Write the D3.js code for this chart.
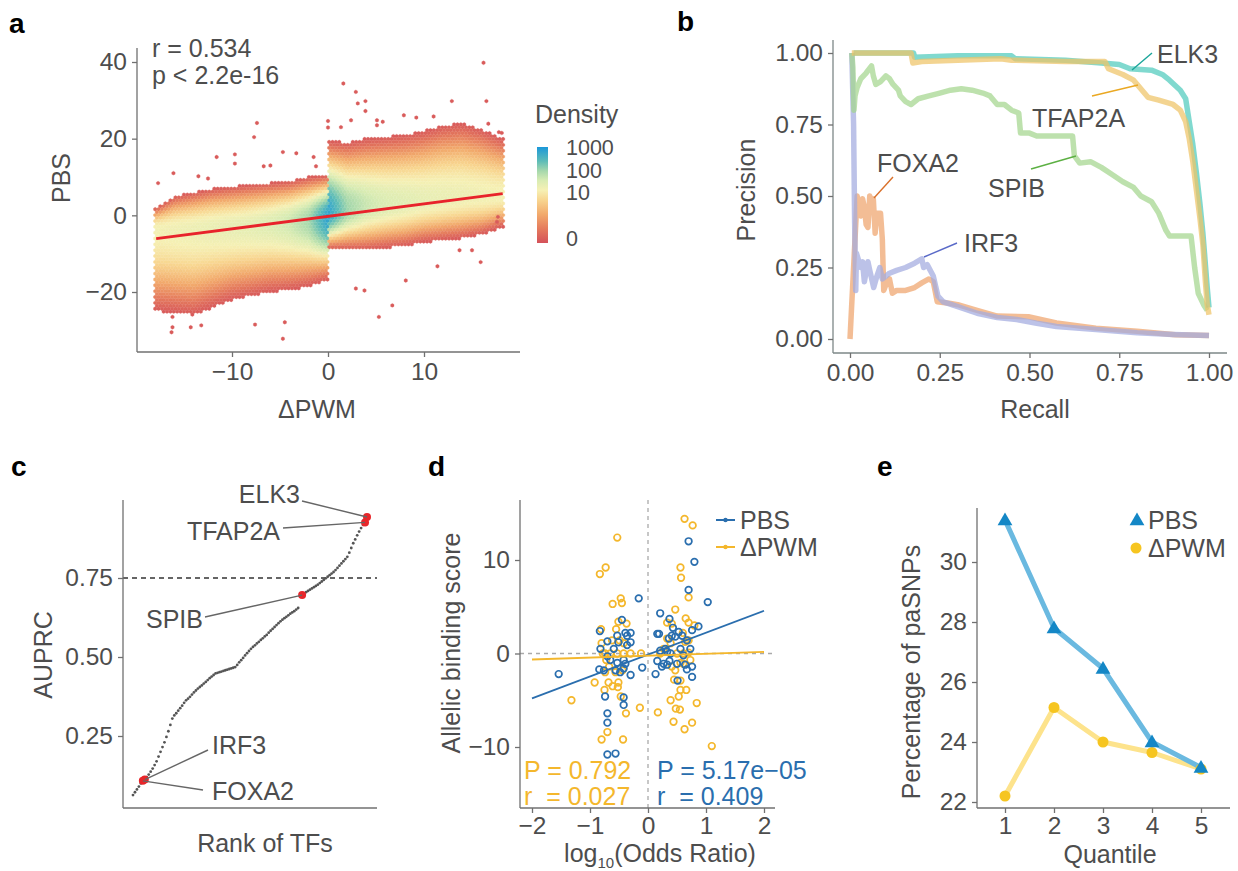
<!DOCTYPE html>
<html>
<head>
<meta charset="utf-8">
<script src="https://cdn.jsdelivr.net/npm/d3@7"></script>
<style>
  body { margin: 0; background: #fff; }
  svg text { font-family: "Liberation Sans", Arial, sans-serif; }
</style>
</head>
<body>
<svg id="fig" width="1238" height="871"></svg>
<script>
// ---------------- data ----------------

// panel a: hexbin density cloud, envelope (left / right of ΔPWM = 0)
const hexLeftX    = [-17.9, -16, -14, -12, -10, -8, -6, -4, -2, -0.1]
const hexLeftTop  = [2, 5, 6, 7, 7.5, 8, 8.5, 9, 10, 10.5]
const hexLeftBot  = [-25, -25.5, -26, -24, -22, -21, -20, -19.5, -18.5, -17]
const hexLeftMid  = [-3.5, -3.5, -3.3, -3, -2.8, -2.5, -2, -1.5, -1, -0.5]
const hexLeftPeak = [0.56, 0.57, 0.58, 0.59, 0.6, 0.61, 0.63, 0.67, 0.75, 0.95]
const hexRightX    = [0.1, 2, 4, 6, 8, 10, 12, 14, 16, 18.2]
const hexRightTop  = [19.5, 19, 20, 20.5, 21, 22, 23.5, 24, 22.5, 20]
const hexRightBot  = [-9, -9, -9, -8.5, -8, -7, -6.5, -6, -5, -3]
const hexRightMid  = [0.5, 1.5, 2.5, 3, 3.5, 4, 4.5, 5, 5, 5]
const hexRightPeak = [0.95, 0.76, 0.68, 0.64, 0.62, 0.6, 0.59, 0.58, 0.57, 0.56]
const hexOutliers = [
  [16.2, 39.8], [1.6, 34.4], [2.9, 32.2], [3.1, 29.2], [3.9, 29.8], [3.9, 27.2], [12.9, 29.8],
  [16.5, 29.8], [-7.4, 24.1], [-7.7, 20.4], [5.7, 24.4], [5.1, 24.8], [1.35, 23], [0, 24.6],
  [0, 22.9], [-11.6, 15.2], [-9.7, 15.9], [-9.7, 13.5], [-16.1, 11], [-17.7, 8.4], [-4.7, 16.5],
  [-3.3, 16.2], [-1.5, 15.2], [-1.25, 12.8], [-6.7, 12.8], [-6, 13], [-13.5, 10.2], [-12.5, 9.6],
  [-16.2, -26.5], [-16.2, -29.2], [-16.3, -30.5], [-14.3, -29.2], [-13.2, -28.7], [-4.7, -32.2],
  [-7.6, -28.5], [-4.5, -27.9], [5.3, -26.5], [6.7, -23.5], [8.1, -17], [3.8, -19.6], [2.9, -19.1],
  [11.4, -13.3], [15.9, -12.2], [13.7, -9.1], [15, -9.1], [17.6, -1.7], [17.7, -0.4], [17.8, 21.7],
  [18.1, 21.5], [16.7, 23.9], [9.2, 25.5], [11, 25.8], [7.9, 26.1], [5.1, 23.5], [2.4, 24.8]
]
const regX = [-17.9, 18.2]
const regY = [-6.1, 5.66]
const densityStops  = [0, 0.15, 0.3, 0.45, 0.55, 0.65, 0.75, 0.85, 1]
const densityColors = ['#d4515a', '#e57b5d', '#f2aa6c', '#f8d690', '#f6f0b4', '#d9ecb3', '#a6d8ac', '#5fbdb7', '#1b98d9']
const densityTickLabels = ['0', '10', '100', '1000']
const densityTickLevels = [0.05, 0.53, 0.76, 0.99]

// panel b: precision-recall curves
const prELK3 = [[0.01,1],[0.177,1],[0.18,0.985],[0.3,0.99],[0.45,0.99],[0.46,0.98],[0.6,0.975],[0.7,0.965],
  [0.75,0.96],[0.78,0.945],[0.84,0.94],[0.87,0.925],[0.89,0.905],[0.92,0.87],[0.935,0.84],[0.945,0.76],
  [0.955,0.68],[0.965,0.58],[0.975,0.47],[0.983,0.37],[0.99,0.26],[0.995,0.18],[1,0.11]]
const prTFAP2A = [[0.005,1],[0.17,1],[0.175,0.965],[0.2,0.97],[0.3,0.975],[0.42,0.98],[0.45,0.975],[0.6,0.97],
  [0.71,0.97],[0.72,0.945],[0.76,0.925],[0.79,0.905],[0.81,0.875],[0.83,0.845],[0.86,0.835],[0.9,0.82],
  [0.92,0.8],[0.935,0.76],[0.945,0.7],[0.955,0.62],[0.965,0.52],[0.975,0.42],[0.983,0.33],[0.99,0.2],
  [0.995,0.12],[1,0.085]]
const prSPIB = [[0.005,1],[0.008,0.95],[0.011,0.8],[0.014,0.85],[0.02,0.88],[0.03,0.91],[0.045,0.93],
  [0.06,0.955],[0.065,0.92],[0.072,0.89],[0.085,0.9],[0.1,0.92],[0.11,0.91],[0.12,0.89],[0.135,0.87],
  [0.14,0.85],[0.155,0.83],[0.17,0.82],[0.19,0.84],[0.22,0.85],[0.25,0.86],[0.28,0.87],[0.31,0.875],
  [0.34,0.87],[0.37,0.86],[0.39,0.85],[0.41,0.82],[0.43,0.82],[0.45,0.8],[0.47,0.79],[0.475,0.72],
  [0.5,0.72],[0.52,0.71],[0.55,0.71],[0.6,0.71],[0.62,0.71],[0.625,0.64],[0.64,0.615],[0.67,0.62],
  [0.7,0.6],[0.73,0.575],[0.76,0.55],[0.79,0.53],[0.81,0.5],[0.84,0.48],[0.86,0.44],[0.88,0.38],
  [0.89,0.36],[0.95,0.36],[0.96,0.25],[0.97,0.16],[0.985,0.12],[0.995,0.1]]
const prFOXA2 = [[0,0],[0.02,0.5],[0.025,0.45],[0.03,0.43],[0.035,0.49],[0.04,0.46],[0.045,0.4],[0.05,0.39],
  [0.055,0.5],[0.06,0.48],[0.065,0.49],[0.07,0.37],[0.075,0.44],[0.085,0.44],[0.09,0.35],[0.094,0.17],
  [0.1,0.19],[0.11,0.21],[0.118,0.16],[0.13,0.17],[0.155,0.17],[0.18,0.18],[0.2,0.196],[0.22,0.21],
  [0.232,0.2],[0.243,0.13],[0.276,0.125],[0.3,0.12],[0.354,0.1],[0.41,0.08],[0.497,0.078],[0.575,0.056],
  [0.685,0.038],[0.8,0.027],[0.906,0.015],[1,0.012]]
const prIRF3 = [[0.005,1],[0.01,0.75],[0.013,0.4],[0.016,0.17],[0.018,0.3],[0.025,0.27],[0.03,0.25],
  [0.035,0.27],[0.04,0.2],[0.05,0.27],[0.055,0.24],[0.066,0.18],[0.075,0.22],[0.083,0.25],[0.09,0.21],
  [0.1,0.22],[0.11,0.23],[0.13,0.24],[0.155,0.25],[0.18,0.265],[0.2,0.28],[0.205,0.25],[0.215,0.26],
  [0.232,0.22],[0.245,0.15],[0.26,0.13],[0.298,0.114],[0.354,0.09],[0.41,0.075],[0.464,0.068],
  [0.52,0.055],[0.575,0.044],[0.685,0.033],[0.8,0.022],[0.9,0.016],[1,0.012]]

// panel c: AUPRC of all TFs, sorted
const auprc = [
  0.063, 0.072, 0.081, 0.090, 0.100, 0.108, 0.112, 0.120, 0.128, 0.137, 0.147, 0.158, 0.170,
  0.185, 0.200, 0.215, 0.230, 0.247, 0.265, 0.285, 0.305, 0.315, 0.322, 0.330, 0.338, 0.346,
  0.355, 0.363, 0.368, 0.374, 0.381, 0.388, 0.394, 0.400, 0.405, 0.410, 0.416, 0.421, 0.427,
  0.433, 0.438, 0.443, 0.448, 0.450, 0.452, 0.454, 0.456, 0.458, 0.460, 0.462, 0.464, 0.466,
  0.468, 0.475, 0.483, 0.490, 0.497, 0.505, 0.512, 0.519, 0.526, 0.532, 0.537, 0.543, 0.548,
  0.554, 0.559, 0.565, 0.570, 0.577, 0.583, 0.589, 0.595, 0.601, 0.607, 0.613, 0.618, 0.623,
  0.627, 0.632, 0.637, 0.641, 0.645, 0.650, 0.655, 0.692, 0.696, 0.701, 0.705, 0.709, 0.713,
  0.717, 0.721, 0.725, 0.729, 0.734, 0.739, 0.744, 0.749, 0.754, 0.759, 0.764, 0.769, 0.775,
  0.782, 0.789, 0.796, 0.803, 0.810, 0.817, 0.830, 0.845, 0.860, 0.872, 0.885, 0.897, 0.908,
  0.918, 0.926, 0.943]
const highlightTFs = ['FOXA2', 'IRF3', 'SPIB', 'TFAP2A', 'ELK3']
const highlightRank = [5, 6, 86, 118, 119]

// panel d: allelic binding score vs log10(odds ratio)
const pbsPts = [[0.7,12],[0.8,9.8],[0.7,6.8],[1.03,5.5],[-0.16,5.9],[0.21,4.3],[0.37,3.7],[0.43,2.75],
  [0.53,2.3],[0.87,2.9],[0.76,2.5],[-0.45,3.6],[-0.83,2.4],[-0.53,1.9],[-0.36,1.9],[-0.3,2.2],[-0.39,2.2],
  [-0.7,1.3],[-0.51,1.2],[-0.36,0.9],[-0.3,1.2],[-0.82,0.5],[-0.59,0.5],[0.16,2.1],[0.19,2.1],[0.36,1.6],
  [0.41,1.9],[0.47,1.8],[0.59,1.9],[0.67,1.4],[0.56,0.5],[0.73,0.5],[0.61,-0.2],[0.3,0.5],[0.33,0.2],
  [0.21,0.3],[0.39,0],[0.16,-0.8],[0.27,-1.1],[0.37,-0.8],[0.24,-1.4],[0.33,-1.2],[0.5,-1.1],[0.64,-1.2],
  [0.76,-1.4],[0.67,-1.7],[0.51,-2.9],[0.76,-2.5],[0.13,-2.2],[-0.1,-1.5],[-0.7,-0.3],[-0.65,-0.7],
  [-0.53,-1],[-0.42,-0.7],[-0.39,-1.1],[-0.56,-1.8],[-0.48,-2],[-0.3,-2.3],[-0.42,-1.6],[-0.84,-1.7],
  [-0.76,-1.8],[-1.54,-2.2],[-0.74,-4.6],[-0.42,-4.7],[-0.42,-5.5],[-0.7,-6.4],[-0.7,-7.4],[-0.7,-10.8],
  [-0.56,-10.7]]
const dpwmPts = [[-0.53,12.4],[-0.83,8.5],[-0.73,9.2],[-0.47,5.9],[-0.61,5.3],[-0.45,5.4],[-0.51,3.4],
  [-0.37,3.2],[-0.55,2.6],[-0.81,2.6],[-0.8,1.1],[-0.62,1.4],[-0.49,1.4],[-0.42,1.1],[-0.78,0],[-0.74,0],
  [-0.65,0],[-0.53,0],[-0.42,0],[-0.3,0],[-0.12,0],[-0.72,-0.7],[-0.67,-1.4],[-0.74,-2],[-0.56,-2],
  [-0.44,-1.8],[-0.92,-3.1],[-0.68,-3.1],[-0.61,-3.5],[-0.51,-3.1],[-0.52,-3.6],[-0.75,-3.9],[-0.47,-4.6],
  [-1.32,-5],[-0.38,-6.4],[-0.14,-5.8],[-0.7,-8.4],[-0.8,-9.2],[-0.43,-9.2],[0.17,-6.3],[0.63,14.4],
  [0.77,13.7],[0.56,9.2],[0.57,8.1],[0.7,6],[0.47,4.7],[0.65,3.75],[0.33,3.3],[0.41,3.2],[0.7,3.3],
  [0.8,3],[0.6,2.2],[0.7,1.4],[0.64,1.25],[0.33,1.6],[0.39,1.1],[0.27,0.5],[0.5,0],[0.61,0],[0.7,0.1],
  [0.21,0],[0.73,-0.7],[0.56,-1],[0.41,-1.4],[0.47,-1.8],[0.61,-1.1],[0.45,-2.8],[0.56,-2.9],[0.53,-4.6],
  [0.39,-5],[0.56,-3.9],[0.66,-3.9],[0.84,-5.3],[0.48,-5.9],[0.55,-6],[0.44,-7.3],[0.76,-7.4],
  [0.63,-8.1],[1.1,-9.9]]
const pbsFit  = [[-2, -4.8], [2, 4.57]]
const dpwmFit = [[-2, -0.64], [2, 0.18]]

// panel e: percentage of paSNPs by quantile
const quantiles = [1, 2, 3, 4, 5]
const pctPBS  = [31.4, 27.8, 26.45, 24.0, 23.15]
const pctDPWM = [22.2, 25.15, 24.0, 23.65, 23.1]

// ---------------- helpers ----------------
const svg = d3.select('#fig')
const textColor = '#4d4d4d'
const axisColor = '#707070'
const titleSize = 25
const tickSize = 24.5

function text(x, y, str, o = {}) {
  const t = svg.append('text')
    .attr('x', x).attr('y', y)
    .attr('font-size', o.size || titleSize)
    .attr('fill', o.color || textColor)
    .attr('text-anchor', o.anchor || 'start')
    .text(str)
  if (o.bold) t.attr('font-weight', 'bold')
  if (o.rotate) t.attr('transform', `rotate(-90, ${x}, ${y})`)
  return t
}

function line(x1, y1, x2, y2, color = axisColor, w = 1.3, dash = null) {
  const l = svg.append('line')
    .attr('x1', x1).attr('y1', y1).attr('x2', x2).attr('y2', y2)
    .attr('stroke', color).attr('stroke-width', w)
  if (dash) l.attr('stroke-dasharray', dash)
  return l
}

function axis(gen, tx, ty) {
  const g = svg.append('g').attr('transform', `translate(${tx},${ty})`).call(gen)
  g.select('.domain').remove()
  g.attr('font-size', tickSize).attr('font-family', '"Liberation Sans", Arial, sans-serif')
  g.selectAll('.tick line').attr('stroke', axisColor).attr('stroke-width', 1.3)
  g.selectAll('.tick text').attr('fill', textColor)
  return g
}

function panelLabel(x, y, s) { text(x, y, s, { size: 28, bold: true, color: '#000' }) }

// ---------------- panel a ----------------
panelLabel(9, 33, 'a')
const xA = d3.scaleLinear().domain([-10, 10]).range([232, 424])
const yA = d3.scaleLinear().domain([-20, 40]).range([292, 62])
const levelColor = d3.scaleLinear().domain(densityStops).range(densityColors).interpolate(d3.interpolateRgb)

function side(xs, top, bot, mid, peak) {
  const s = arr => d3.scaleLinear().domain(xs).range(arr).clamp(true)
  return { min: xs[0], max: xs[xs.length - 1], top: s(top), bot: s(bot), mid: s(mid), peak: s(peak) }
}
const sides = [
  side(hexLeftX, hexLeftTop, hexLeftBot, hexLeftMid, hexLeftPeak),
  side(hexRightX, hexRightTop, hexRightBot, hexRightMid, hexRightPeak)
]

const hexR = 1.95
const hexW = Math.sqrt(3) * hexR
const hexPath = 'M' + d3.range(6).map(k => {
  const a = k * Math.PI / 3
  return [Math.sin(a) * hexR, -Math.cos(a) * hexR]
}).join('L') + 'Z'

const cells = []
const pyTop = yA(26), pyBot = yA(-27)
for (let j = 0; pyTop + j * 1.5 * hexR <= pyBot; j++) {
  const py = pyTop + j * 1.5 * hexR
  for (let px = xA(-18) + (j % 2) * hexW / 2; px <= xA(18.3); px += hexW) {
    const xv = xA.invert(px), yv = yA.invert(py)
    const s = sides.find(s => xv >= s.min - 0.15 && xv <= s.max + 0.15)
    if (!s) continue
    const m = s.mid(xv), top = s.top(xv), bot = s.bot(xv)
    if (yv > top || yv < bot) continue
    const t = yv >= m ? (yv - m) / (top - m) : (m - yv) / (m - bot)
    // colour level falls from the column's peak in the core to ~0 at the envelope
    const lvl = 0.04 + (s.peak(xv) - 0.04) * Math.pow(Math.max(0, 1 - t * t), 1.3)
    cells.push({ px, py, lvl })
  }
}
hexOutliers.forEach(d => cells.push({ px: xA(d[0]), py: yA(d[1]), lvl: 0.04 }))

svg.append('g').selectAll('path').data(cells).join('path')
  .attr('d', hexPath)
  .attr('transform', d => `translate(${d.px},${d.py})`)
  .attr('fill', d => levelColor(d.lvl))
  .attr('stroke', d => levelColor(d.lvl))
  .attr('stroke-width', 0.3)

svg.append('line')
  .attr('x1', xA(regX[0])).attr('y1', yA(regY[0]))
  .attr('x2', xA(regX[1])).attr('y2', yA(regY[1]))
  .attr('stroke', '#e8232b').attr('stroke-width', 2.8)

line(137, 48, 137, 352)
line(137, 352, 520, 352)
axis(d3.axisLeft(yA).tickValues([-20, 0, 20, 40]).tickSize(5).tickPadding(5), 137, 0)
axis(d3.axisBottom(xA).tickValues([-10, 0, 10]).tickSize(5).tickPadding(6), 0, 352)
text(317, 418, 'ΔPWM', { anchor: 'middle' })
text(70, 178, 'PBS', { anchor: 'middle', rotate: true })
text(152, 57, 'r = 0.534')
text(152, 84, 'p < 2.2e-16')

// density legend
const barY = d3.scaleLinear().domain([0, 1]).range([243, 147])
const grad = svg.append('defs').append('linearGradient')
  .attr('id', 'densGrad').attr('x1', 0).attr('y1', 1).attr('x2', 0).attr('y2', 0)
grad.selectAll('stop').data(densityStops).join('stop')
  .attr('offset', d => d).attr('stop-color', (d, i) => densityColors[i])
svg.append('rect').attr('x', 537).attr('y', barY(1)).attr('width', 11)
  .attr('height', barY(0) - barY(1)).attr('fill', 'url(#densGrad)')
text(535, 123, 'Density')
densityTickLabels.forEach((l, i) => text(566, barY(densityTickLevels[i]) + 7.5, l, { size: 21.5 }))

// ---------------- panel b ----------------
panelLabel(677, 31, 'b')
const xB = d3.scaleLinear().domain([0, 1]).range([850, 1209])
const yB = d3.scaleLinear().domain([0, 1]).range([339, 53])
const prLine = d3.line().x(d => xB(d[0])).y(d => yB(d[1]))
const prCurves = [
  { name: 'FOXA2', data: prFOXA2, color: '#eea46c' },
  { name: 'IRF3', data: prIRF3, color: '#a2aadf' },
  { name: 'SPIB', data: prSPIB, color: '#a3d58d' },
  { name: 'ELK3', data: prELK3, color: '#4fcbbd' },
  { name: 'TFAP2A', data: prTFAP2A, color: '#efc466' }
]
svg.append('g').selectAll('path').data(prCurves).join('path')
  .attr('d', d => prLine(d.data))
  .attr('fill', 'none')
  .attr('stroke', d => d.color)
  .attr('stroke-width', 5.5)
  .attr('stroke-linejoin', 'round')
  .attr('opacity', 0.72)

line(833, 40, 833, 353, '#7d8787')
line(833, 353, 1227, 353, '#7d8787')
axis(d3.axisLeft(yB).tickValues([0, 0.25, 0.5, 0.75, 1]).tickFormat(d3.format('.2f')).tickSize(5).tickPadding(5), 833, 0)
axis(d3.axisBottom(xB).tickValues([0, 0.25, 0.5, 0.75, 1]).tickFormat(d3.format('.2f')).tickSize(5).tickPadding(6), 0, 353)
text(1035, 418, 'Recall', { anchor: 'middle' })
text(755, 190, 'Precision', { anchor: 'middle', rotate: true })

line(1132, 70, 1152, 53, '#1aa59a', 1.4)
text(1157, 63, 'ELK3')
line(1092, 96, 1138, 85, '#eaa822', 1.4)
text(1032, 127, 'TFAP2A')
line(1031, 169, 1076, 156, '#5cb043', 1.4)
text(988, 197, 'SPIB')
line(874, 198, 893, 177, '#d9702a', 1.4)
text(877, 172, 'FOXA2')
line(924, 257, 957, 243, '#5a6ac8', 1.4)
text(964, 252, 'IRF3')

// ---------------- panel c ----------------
panelLabel(11, 476, 'c')
const xC = d3.scaleLinear().domain([0, auprc.length - 1]).range([133, 367])
const yC = d3.scaleLinear().domain([0.25, 0.75]).range([736, 578])
line(123, yC(0.75), 377, yC(0.75), '#333', 1.3, '5,4')
svg.append('g').selectAll('circle').data(auprc).join('circle')
  .attr('cx', (d, i) => xC(i)).attr('cy', d => yC(d))
  .attr('r', 1.4).attr('fill', '#555')
svg.append('g').selectAll('circle').data(highlightRank).join('circle')
  .attr('cx', d => xC(d)).attr('cy', d => yC(auprc[d]))
  .attr('r', 4).attr('fill', '#e8262a')
line(123, 500, 123, 808)
line(123, 808, 377, 808)
axis(d3.axisLeft(yC).tickValues([0.25, 0.5, 0.75]).tickFormat(d3.format('.2f')).tickSize(5).tickPadding(5), 123, 0)
text(265, 852, 'Rank of TFs', { anchor: 'middle' })
text(52, 655, 'AUPRC', { anchor: 'middle', rotate: true })

const labelC = [
  { name: 'ELK3', x: 300, y: 503, anchor: 'end', l: [302, 501] },
  { name: 'TFAP2A', x: 280, y: 540, anchor: 'end', l: [283, 528] },
  { name: 'SPIB', x: 146, y: 628, anchor: 'start', l: [205, 617] },
  { name: 'IRF3', x: 212, y: 754, anchor: 'start', l: [208, 750] },
  { name: 'FOXA2', x: 212, y: 800, anchor: 'start', l: [203, 790] }
]
labelC.forEach(d => {
  const r = highlightRank[highlightTFs.indexOf(d.name)]
  line(d.l[0], d.l[1], xC(r), yC(auprc[r]), '#666', 1.4)
  text(d.x, d.y, d.name, { anchor: d.anchor })
})

// ---------------- panel d ----------------
panelLabel(428, 476, 'd')
const xD = d3.scaleLinear().domain([-2, 2]).range([532, 764])
const yD = d3.scaleLinear().domain([-10, 10]).range([747, 560])
const blue = '#2a6eae', yellow = '#f4b72c'
line(xD(0), 500, xD(0), 808, '#aaa', 1.3, '4,4')
line(520, yD(0), 775, yD(0), '#aaa', 1.3, '4,4')

const series = [{ pts: dpwmPts, color: yellow }, { pts: pbsPts, color: blue }]
series.forEach(s => {
  svg.append('g').selectAll('circle').data(s.pts).join('circle')
    .attr('cx', d => xD(d[0])).attr('cy', d => yD(d[1]))
    .attr('r', 3.3).attr('fill', 'none')
    .attr('stroke', s.color).attr('stroke-width', 1.7)
})
;[{ f: pbsFit, c: blue }, { f: dpwmFit, c: yellow }].forEach(d => {
  line(xD(d.f[0][0]), yD(d.f[0][1]), xD(d.f[1][0]), yD(d.f[1][1]), d.c, 1.8)
})

line(520, 500, 520, 808)
line(520, 808, 775, 808)
axis(d3.axisLeft(yD).tickValues([-10, 0, 10]).tickSize(5).tickPadding(5), 520, 0)
axis(d3.axisBottom(xD).tickValues([-2, -1, 0, 1, 2]).tickFormat(d3.format('d')).tickSize(5).tickPadding(4), 0, 808)
text(460, 643, 'Allelic binding score', { anchor: 'middle', rotate: true })
const xt = text(660, 862, 'log', { anchor: 'middle' })
xt.append('tspan').attr('font-size', 15).attr('dy', 6).text('10')
xt.append('tspan').attr('dy', -6).text('(Odds Ratio)')

;[{ n: 'PBS', c: blue, y: 520 }, { n: 'ΔPWM', c: yellow, y: 547 }].forEach(d => {
  line(716, d.y, 735, d.y, d.c, 2)
  svg.append('circle').attr('cx', 725.5).attr('cy', d.y).attr('r', 2.2).attr('fill', d.c)
  text(740, d.y + 9, d.n)
})
text(524, 779, 'P = 0.792', { color: yellow })
text(524, 805, 'r\u00a0 = 0.027', { color: yellow })
text(657, 779, 'P = 5.17e\u221205', { color: blue })
text(657, 805, 'r\u00a0 = 0.409', { color: blue })

// ---------------- panel e ----------------
panelLabel(877, 476, 'e')
const xE = d3.scaleLinear().domain([1, 5]).range([1005, 1201])
const yE = d3.scaleLinear().domain([22, 30]).range([802, 562])
const qLine = vals => d3.line().x((d, i) => xE(quantiles[i])).y(d => yE(d))(vals)

svg.append('path').attr('d', qLine(pctDPWM)).attr('fill', 'none')
  .attr('stroke', '#fde38c').attr('stroke-width', 5).attr('stroke-linejoin', 'round')
svg.append('path').attr('d', qLine(pctPBS)).attr('fill', 'none')
  .attr('stroke', '#6ab9e0').attr('stroke-width', 5).attr('stroke-linejoin', 'round')
svg.append('g').selectAll('circle').data(pctDPWM).join('circle')
  .attr('cx', (d, i) => xE(quantiles[i])).attr('cy', d => yE(d))
  .attr('r', 5.5).attr('fill', '#f6c520')
const tri = d3.symbol(d3.symbolTriangle, 95)
svg.append('g').selectAll('path').data(pctPBS).join('path')
  .attr('d', tri)
  .attr('transform', (d, i) => `translate(${xE(quantiles[i])},${yE(d) + 1})`)
  .attr('fill', '#1487c6')

line(977, 508, 977, 808)
line(977, 808, 1230, 808)
axis(d3.axisLeft(yE).tickValues([22, 24, 26, 28, 30]).tickSize(5).tickPadding(5), 977, 0)
axis(d3.axisBottom(xE).tickValues(quantiles).tickFormat(d3.format('d')).tickSize(5).tickPadding(4), 0, 808)
text(1110, 863, 'Quantile', { anchor: 'middle' })
text(920, 672, 'Percentage of paSNPs', { anchor: 'middle', rotate: true })

svg.append('path').attr('d', tri).attr('transform', 'translate(1137,521)').attr('fill', '#1487c6')
text(1148, 529, 'PBS')
svg.append('circle').attr('cx', 1136).attr('cy', 548).attr('r', 5.5).attr('fill', '#f6c520')
text(1148, 557, 'ΔPWM')
</script>
</body>
</html>
